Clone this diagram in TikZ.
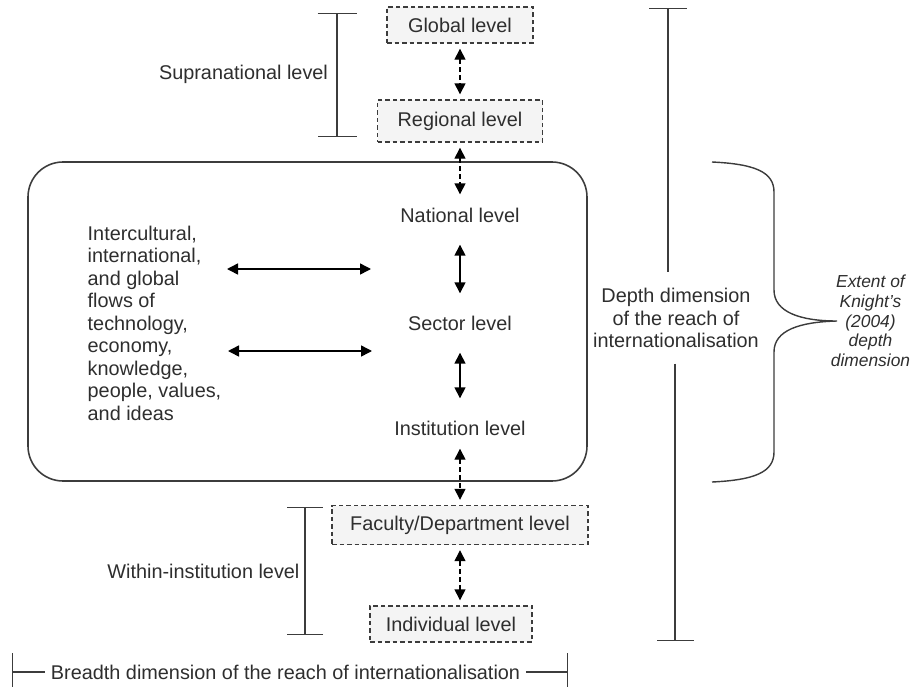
\documentclass[tikz,border=0pt]{standalone}
\usepackage{fontspec}
\setmainfont{Liberation Sans}
\usetikzlibrary{arrows.meta}
\definecolor{boxfill}{HTML}{F4F4F4}
\definecolor{inkgray}{HTML}{2E2E2E}
\definecolor{linegray}{HTML}{3C3C3C}

\begin{document}
\begin{tikzpicture}[auto, node distance=2cm, thick, draw=linegray,
    every node/.style={text=inkgray,font=\fontsize{11.3}{12.8}\selectfont},
    level box/.style={draw=linegray,fill=boxfill,line width=0.8pt,dash pattern=on 0.09cm off 0.06cm},
    level node/.style={minimum height=0.6cm},
    frame node/.style={draw=linegray,line width=0.9pt,rounded corners=0.7cm},
    dash arrow/.style={draw=black,line width=0.8pt,dash pattern=on 0.1cm off 0.06cm,
                       {Triangle[length=0.22cm,width=0.22cm]}-{Triangle[length=0.22cm,width=0.22cm]},
                       shorten <=0.1cm,shorten >=0.1cm},
    solid arrow/.style={draw=black,line width=0.85pt,
                       {Triangle[length=0.22cm,width=0.22cm]}-{Triangle[length=0.22cm,width=0.22cm]}},
    span bar/.style={draw=linegray,line width=0.8pt}]

  \useasboundingbox (0,0) rectangle (18.24,-13.74);

  \node[frame node,minimum width=11.18cm,minimum height=6.38cm] (frame) at (6.15,-6.43) {};

  \node[level box,minimum width=2.92cm,minimum height=0.72cm] (global) at (9.2,-0.5) {Global level};
  \node[level box,minimum width=3.3cm,minimum height=0.84cm] (regional) [below of=global,node distance=1.92cm] {Regional level};
  \node[level node] (national) [below of=regional,node distance=1.88cm] {National level};
  \node[level node] (sector) [below of=national,node distance=2.16cm] {Sector level};
  \node[level node] (institution) [below of=sector,node distance=2.1cm] {Institution level};
  \node[level box,minimum width=5.12cm,minimum height=0.78cm] (faculty) [below of=institution,node distance=1.94cm] {Faculty/Department level};
  \node[level box,minimum width=3.24cm,minimum height=0.72cm] (individual) [below of=faculty,node distance=1.98cm,xshift=-0.18cm] {Individual level};

  \node[anchor=west,align=left,inner sep=0pt] (flows) at (1.74,-6.46)
    {Intercultural,\\international,\\and global\\flows of\\technology,\\economy,\\knowledge,\\people, values,\\and ideas};
  \coordinate (flowa) at (4.54,-5.38);
  \coordinate (flowb) at (7.42,-5.38);
  \coordinate (flowc) at (4.56,-7.02);
  \coordinate (flowd) at (7.44,-7.02);

  % supranational and within-institution spans
  \coordinate (supratop) at (6.74,-0.26);
  \coordinate (suprabot) at (6.74,-2.74);
  \node[anchor=east] (supra) at (6.69,-1.48) {Supranational level};
  \coordinate (withintop) at (6.1,-10.14);
  \coordinate (withinbot) at (6.1,-12.7);
  \node[anchor=east] (within) at (6.12,-11.42) {Within-institution level};

  % depth and breadth spans
  \node[align=center,minimum height=1.8cm] (depth) at (13.52,-6.36) {Depth dimension\\of the reach of\\internationalisation};
  \coordinate (depthtop) at (13.36,-0.16);
  \coordinate (depthbot) at (13.5,-12.82);
  \node[inner xsep=0.1cm] (breadth) at (5.71,-13.44) {Breadth dimension of the reach of internationalisation};
  \coordinate (breadthl) at (0.24,-13.44);
  \coordinate (breadthr) at (11.36,-13.44);

  \node[align=center,inner xsep=0pt,font=\fontsize{9.9}{11.2}\selectfont\itshape] (extent) at (17.41,-6.42) {Extent of\\Knight's\\(2004)\\depth\\dimension};

\path
    (global) edge[dash arrow] (regional)
    (regional) edge[dash arrow] (national)
    (national) edge[solid arrow,shorten <=0.28cm,shorten >=0.28cm] (sector)
    (sector) edge[solid arrow,shorten <=0.28cm,shorten >=0.28cm] (institution)
    (institution) edge[dash arrow] (faculty)
    (faculty.south) edge[dash arrow] (faculty.south |- individual.north)

    (flowa) edge[solid arrow] (flowb)
    (flowc) edge[solid arrow] (flowd);

  \draw[span bar,{Bar[width=0.78cm]}-{Bar[width=0.78cm]}] (supratop) -- (suprabot);
  \draw[span bar,{Bar[width=0.72cm]}-{Bar[width=0.72cm]}] (withintop) -- (withinbot);
  \draw[span bar,{Bar[width=0.76cm]}-] (depthtop) -- (depthtop |- depth.north);
  \draw[span bar,-{Bar[width=0.74cm]}] (depthbot |- depth.south) -- (depthbot);
  \draw[span bar,{Bar[width=0.76cm]}-] (breadthl) -- (breadth.west);
  \draw[span bar,-{Bar[width=0.76cm]}] (breadth.east) -- (breadthr);

  % brace
  \draw[span bar] (14.24,-3.24) .. controls (15.1,-3.28) and (15.48,-3.44) .. (15.48,-3.84)
    -- (15.48,-5.8) .. controls (15.48,-6.24) and (16.0,-6.42) .. (16.74,-6.42)
    .. controls (16.0,-6.44) and (15.48,-6.6) .. (15.48,-7.04)
    -- (15.48,-9.04) .. controls (15.48,-9.44) and (15.1,-9.6) .. (14.24,-9.64);

\end{tikzpicture}
\end{document}
